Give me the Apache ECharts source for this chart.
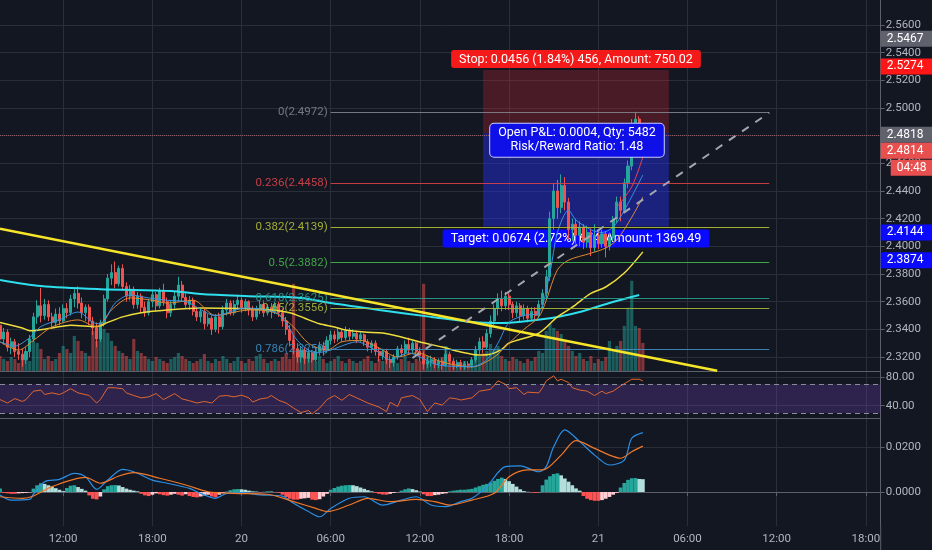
<!DOCTYPE html>
<html>
<head>
<meta charset="utf-8">
<script src="https://cdn.jsdelivr.net/npm/echarts@6/dist/echarts.min.js"></script>
<style>
html,body{margin:0;padding:0;background:#131722;}
#chart{width:932px;height:550px;}
</style>
</head>
<body>
<div id="chart"></div>
<script>
// ---------- time slots (15 min) ----------
const startDay = 19, startMinute = 7 * 60 + 45, slotCount = 238, slotMinutes = 15;
const times = [];
for (let k = 0; k < slotCount; k++) {
  const t = startMinute + k * slotMinutes;
  const d = startDay + Math.floor(t / 1440);
  const m = t % 1440;
  const hh = String(Math.floor(m / 60)).padStart(2, '0');
  const mm = String(m % 60).padStart(2, '0');
  times.push(d + ' ' + hh + ':' + mm);
}

// ---------- candles [open, close, low, high] ----------
const ohlc = [
[2.343,2.333,2.330,2.346],[2.333,2.338,2.329,2.341],[2.338,2.327,2.324,2.340],[2.327,2.331,2.322,2.334],
[2.331,2.324,2.320,2.333],[2.324,2.322,2.318,2.330],[2.322,2.318,2.313,2.326],[2.318,2.324,2.315,2.327],
[2.324,2.333,2.320,2.336],[2.333,2.349,2.331,2.352],[2.349,2.357,2.344,2.361],[2.357,2.350,2.345,2.370],
[2.350,2.358,2.347,2.362],[2.358,2.349,2.346,2.361],[2.349,2.345,2.341,2.352],[2.345,2.351,2.342,2.355],
[2.351,2.346,2.343,2.356],[2.346,2.355,2.345,2.358],[2.355,2.352,2.348,2.359],[2.352,2.362,2.350,2.365],
[2.362,2.366,2.356,2.369],[2.366,2.359,2.355,2.371],[2.359,2.352,2.348,2.363],[2.352,2.356,2.346,2.358],
[2.356,2.346,2.343,2.358],[2.346,2.341,2.336,2.349],[2.341,2.333,2.327,2.345],[2.333,2.345,2.331,2.347],
[2.345,2.362,2.342,2.365],[2.362,2.377,2.360,2.380],[2.377,2.381,2.372,2.387],[2.381,2.373,2.370,2.389],
[2.373,2.384,2.371,2.386],[2.384,2.371,2.368,2.387],[2.371,2.364,2.360,2.374],[2.364,2.369,2.361,2.372],
[2.369,2.358,2.355,2.371],[2.358,2.364,2.355,2.367],[2.364,2.356,2.352,2.366],[2.356,2.352,2.349,2.360],
[2.352,2.360,2.350,2.362],[2.360,2.365,2.356,2.368],[2.365,2.357,2.353,2.367],[2.357,2.368,2.355,2.370],
[2.368,2.360,2.357,2.373],[2.360,2.352,2.348,2.363],[2.352,2.358,2.349,2.361],[2.358,2.364,2.355,2.367],
[2.364,2.372,2.360,2.378],[2.372,2.363,2.360,2.375],[2.363,2.358,2.355,2.366],[2.358,2.361,2.354,2.364],
[2.361,2.353,2.350,2.363],[2.353,2.349,2.346,2.356],[2.349,2.353,2.345,2.355],[2.353,2.344,2.340,2.355],
[2.344,2.348,2.342,2.351],[2.348,2.340,2.336,2.350],[2.340,2.349,2.338,2.351],[2.349,2.342,2.337,2.352],
[2.342,2.354,2.340,2.357],[2.354,2.359,2.350,2.362],[2.359,2.352,2.350,2.361],[2.352,2.358,2.350,2.361],
[2.358,2.361,2.354,2.365],[2.361,2.356,2.352,2.363],[2.356,2.360,2.353,2.362],[2.360,2.354,2.350,2.361],
[2.354,2.349,2.346,2.357],[2.349,2.355,2.347,2.357],[2.355,2.358,2.351,2.361],[2.358,2.352,2.349,2.360],
[2.352,2.356,2.350,2.358],[2.356,2.353,2.348,2.359],[2.353,2.358,2.351,2.360],[2.358,2.352,2.349,2.360],
[2.352,2.346,2.342,2.355],[2.346,2.340,2.336,2.349],[2.340,2.332,2.328,2.343],[2.332,2.326,2.322,2.336],
[2.326,2.320,2.316,2.330],[2.320,2.325,2.316,2.328],[2.325,2.319,2.315,2.327],[2.319,2.323,2.316,2.326],
[2.323,2.318,2.316,2.325],[2.318,2.324,2.317,2.327],[2.324,2.328,2.321,2.331],[2.328,2.325,2.321,2.331],
[2.325,2.332,2.323,2.335],[2.332,2.336,2.329,2.339],[2.336,2.333,2.330,2.339],[2.333,2.338,2.331,2.341],
[2.338,2.334,2.331,2.340],[2.334,2.339,2.332,2.342],[2.339,2.335,2.332,2.341],[2.335,2.337,2.333,2.340],
[2.337,2.333,2.330,2.339],[2.333,2.336,2.331,2.338],[2.336,2.331,2.328,2.337],[2.331,2.327,2.324,2.333],
[2.327,2.330,2.323,2.332],[2.330,2.324,2.321,2.332],[2.324,2.321,2.317,2.327],[2.321,2.324,2.318,2.326],
[2.324,2.318,2.315,2.326],[2.318,2.316,2.312,2.321],[2.316,2.320,2.313,2.322],[2.320,2.326,2.318,2.328],
[2.326,2.323,2.320,2.329],[2.323,2.329,2.321,2.332],[2.329,2.325,2.322,2.334],[2.325,2.330,2.323,2.332],
[2.330,2.324,2.321,2.331],[2.324,2.321,2.317,2.327],[2.321,2.315,2.311,2.324],[2.315,2.317,2.312,2.320],
[2.317,2.318,2.313,2.321],[2.318,2.315,2.312,2.320],[2.315,2.317,2.312,2.319],[2.317,2.314,2.311,2.319],
[2.314,2.322,2.313,2.327],[2.322,2.317,2.314,2.324],[2.317,2.314,2.311,2.319],[2.314,2.316,2.312,2.318],
[2.316,2.313,2.311,2.318],[2.313,2.315,2.311,2.317],[2.315,2.314,2.312,2.317],[2.314,2.318,2.312,2.320],
[2.318,2.325,2.316,2.328],[2.325,2.331,2.322,2.334],[2.331,2.327,2.323,2.335],[2.327,2.337,2.325,2.340],
[2.337,2.346,2.334,2.350],[2.346,2.355,2.343,2.358],[2.355,2.362,2.350,2.366],[2.362,2.357,2.353,2.368],
[2.357,2.364,2.354,2.367],[2.364,2.358,2.354,2.366],[2.358,2.352,2.348,2.360],[2.352,2.357,2.349,2.360],
[2.357,2.350,2.346,2.359],[2.350,2.355,2.347,2.358],[2.355,2.348,2.345,2.357],[2.348,2.353,2.346,2.356],
[2.353,2.350,2.347,2.356],[2.350,2.358,2.348,2.361],[2.358,2.366,2.355,2.369],[2.366,2.378,2.362,2.383],
[2.378,2.420,2.375,2.425],[2.420,2.440,2.412,2.445],[2.440,2.428,2.420,2.448],[2.428,2.444,2.424,2.452],
[2.444,2.432,2.426,2.450],[2.432,2.412,2.405,2.435],[2.412,2.416,2.404,2.420],[2.416,2.408,2.402,2.420],
[2.408,2.414,2.400,2.418],[2.414,2.403,2.398,2.416],[2.403,2.410,2.399,2.415],[2.410,2.399,2.393,2.413],
[2.399,2.408,2.396,2.416],[2.408,2.402,2.398,2.412],[2.402,2.409,2.399,2.412],[2.409,2.400,2.392,2.411],
[2.400,2.406,2.397,2.410],[2.406,2.420,2.404,2.422],[2.420,2.432,2.417,2.436],[2.432,2.426,2.418,2.436],
[2.426,2.446,2.424,2.449],[2.446,2.458,2.442,2.462],[2.458,2.489,2.455,2.492],[2.489,2.492,2.482,2.4972],
[2.492,2.486,2.480,2.494],[2.486,2.4814,2.479,2.489]
];

const volume = [
15,12,10,14,12, 8,12,18,10, 30,28,22, 12,15,10,12,18, 25,22,18,35,30, 20,18,15,40,30,
45,42,38,30,25,20,18, 15,12,32,20,18,15,12, 10,14,12,10,8,12,14, 18,15,12,10,8,10,
12,17,10,8,12,10,15, 12,8,10,14,10,8,12, 10,15,17,12,8,10,12,10, 14,18,12, 87,
22,18,15,20,12,10,15, 12,8,10,12,15,10,8,12,10, 8,10,12,15,10,8,12,10,14,12,
10,8,12,15,10,8,12, 10,87,15, 12,10,8,14, 25, 10,8,6,8,10,6,8, 12,15,18,20,27,22,25,
15,12,10,14,12,10,8,12,10,14,20,18, 40,47,43, 40,37,30,25,20,15,18,
12,10,15,8,12,10,14,30, 20,25, 30,45,63,90,45,43,28
];

// ---------- moving averages, read at sample points [slot, price] ----------
const maSlow = [[0,2.3757],[11,2.3713],[27,2.369],[46,2.3677],[54,2.3655],[67,2.364],[81,2.3627],
  [89,2.359],[102,2.354],[116,2.349],[127,2.3453],[135,2.3446],[148,2.348],[156,2.3525],[164,2.359],[172,2.3648]];
const maMid = [[0,2.345],[6,2.341],[8,2.339],[14,2.341],[19,2.343],[26,2.342],[29,2.345],[33,2.349],[38,2.352],
  [45,2.354],[54,2.3554],[65,2.355],[73,2.354],[78,2.352],[82,2.348],[86,2.344],[90,2.3417],[93,2.3395],
  [98,2.338],[103,2.3374],[108,2.3345],[113,2.3308],[119,2.3272],[124,2.3236],[129,2.3214],[132,2.322],
  [135,2.3255],[137,2.3301],[145,2.3373],[150,2.349],[154,2.356],[159,2.366],[163,2.3706],[168,2.3807],[173,2.396]];
const maOrange = [[0,2.331],[5,2.325],[9,2.332],[14,2.3417],[21,2.3468],[26,2.3417],[30,2.354],[35,2.3627],
  [41,2.361],[45,2.359],[52,2.361],[58,2.350],[67,2.354],[74,2.352],[79,2.3417],[83,2.330],[88,2.325],[92,2.331],
  [97,2.332],[102,2.3265],[107,2.320],[112,2.323],[119,2.3164],[127,2.3128],[133,2.320],[137,2.330],[141,2.340],
  [145,2.349],[147,2.361],[150,2.383],[153,2.390],[159,2.395],[163,2.3988],[166,2.4046],[170,2.421],[173,2.4357]];
const maBlue = [[0,2.331],[4,2.328],[8,2.334],[11,2.342],[16,2.347],[21,2.3525],[25,2.345],[27,2.344],[31,2.359],
  [35,2.3648],[40,2.3627],[45,2.361],[50,2.360],[58,2.350],[66,2.3554],[74,2.3525],[77,2.3446],[80,2.332],
  [85,2.323],[89,2.325],[91,2.327],[96,2.331],[101,2.325],[105,2.318],[110,2.323],[113,2.320],[118,2.3142],
  [127,2.313],[131,2.318],[134,2.330],[137,2.345],[141,2.350],[145,2.352],[148,2.381],[150,2.410],[153,2.426],
  [155,2.419],[159,2.412],[162,2.410],[165,2.414],[168,2.426],[173,2.4516]];
const maRed = [[166,2.4285],[170,2.443],[173,2.4646]];

// ---------- drawings ----------
const trendYellow = [[0,2.4128],[193,2.3100]];
const trendDashed = [[111,2.3193],[207,2.4966]];
const fibRatios = ['0','0.236','0.382','0.5','0.618','0.65','0.786'];
const fibPrices = [2.4972,2.4458,2.4139,2.3882,2.3625,2.3556,2.3259];
const fibSpan = [89,207];
const stopPrice = 2.5274, entryPrice = 2.4818, targetPrice = 2.4144;
const positionSpan = [130,180];
const stopText = 'Stop: 0.0456 (1.84%) 456, Amount: 750.02';
const targetText = 'Target: 0.0674 (2.72%) 674, Amount: 1369.49';
const pnlText = 'Open P&L: 0.0004, Qty: 5482\nRisk/Reward Ratio: 1.48';
const pnlSlot = 155;
const tagValues = [2.5467, 2.5274, 2.4818, 2.4814, 2.4144, 2.3874];
const countdownText = '04:48';
const lastPrice = 2.4814;

// ---------- RSI [slot, value] ----------
const rsi = [[0,48.6],[2,43.8],[4,50],[6,46],[7,48.6],[9,60.4],[11,61.9],[12,55.7],[14,58],[16,55.7],[17,58],
 [19,63.8],[21,58],[24,54.3],[26,43.8],[27,48.6],[29,65.2],[31,65],[33,63.8],[34,58],[36,54.3],[38,51],[40,52.4],
 [42,57],[44,48.6],[47,57],[49,49.5],[51,47],[53,43.8],[55,46],[57,43.8],[59,53.3],[61,54.3],[63,52.4],[65,54.8],
 [67,51],[68,45.2],[70,49.5],[72,51],[73,54.3],[75,47.6],[77,43.8],[79,36.7],[81,30.5],[83,33.3],[84,28.6],
 [86,36.7],[88,48.6],[90,54.3],[92,47.6],[94,55.7],[96,51],[99,43.8],[102,38.1],[104,31.9],[105,44.8],[107,39],
 [108,51],[111,54.3],[113,48.6],[115,31.9],[117,43.8],[119,41],[121,51],[123,49.5],[124,48],[127,51],[129,60.4],
 [132,62.9],[134,74.8],[136,70],[137,63.8],[139,65.2],[141,55.7],[142,59],[145,58],[146,65.2],[147,74.8],
 [149,81.9],[150,74.8],[151,77],[153,72.4],[154,65.2],[156,61.9],[158,60.4],[160,54.3],[162,60.4],[163,57],
 [165,60.4],[167,67.6],[170,77],[172,77],[173,74.8]];

// ---------- MACD ----------
const macdLine = [[0,-0.0013],[3,-0.0036],[8,-0.0033],[9,-0.001],[12,0.0046],[16,0.0056],[20,0.0083],[23,0.0068],
 [26,0.0012],[29,0.0053],[33,0.0101],[36,0.009],[41,0.0053],[45,0.0039],[51,0.0016],[54,-0.0006],[58,-0.0028],
 [61,-0.0006],[65,-0.0003],[70,-0.0013],[76,-0.0018],[79,-0.005],[83,-0.0087],[86,-0.011],[89,-0.0073],[94,-0.0028],
 [98,-0.0021],[103,-0.0058],[108,-0.0036],[112,-0.0021],[116,-0.0058],[120,-0.0065],[124,-0.0043],[127,-0.0028],
 [131,0.0024],[136,0.0113],[140,0.0116],[145,0.009],[147,0.0113],[149,0.0201],[152,0.0276],[156,0.0224],
 [160,0.0164],[164,0.012],[168,0.0142],[170,0.0239],[173,0.0264]];
const signalLine = [[0,-0.0021],[6,-0.0028],[9,-0.0018],[14,0.0024],[23,0.0065],[27,0.0039],[32,0.0071],[36,0.0086],
 [43,0.0061],[50,0.0031],[56,0.0001],[63,-0.0006],[72,-0.001],[79,-0.0043],[85,-0.0073],[88,-0.0087],[94,-0.0058],
 [99,-0.0028],[105,-0.0043],[112,-0.0033],[117,-0.0043],[121,-0.0058],[127,-0.0036],[133,-0.0006],[137,0.0068],
 [142,0.0098],[146,0.0098],[151,0.0164],[155,0.0228],[160,0.0194],[164,0.0164],[167,0.015],[170,0.0179],[173,0.0204]];
const macdHist = [
0.0016,
-0.0004,-0.0006,-0.0008,-0.0008,-0.0006,-0.0005,-0.0004,-0.0002,
0.0015,0.0030,0.0039,
0.0036,0.0030,0.0024,0.0017,0.0010,0.0004,
0.0018,0.0028,0.0030,
0.0022,0.0014,0.0006,
-0.0015,-0.0030,-0.0033,-0.0020,
0.0012,0.0026,0.0030,0.0031,0.0029,
0.0022,0.0015,0.0010,0.0006,0.0003,
-0.0008,-0.0015,-0.0018,-0.0012,-0.0006,
-0.0010,-0.0014,-0.0016,-0.0012,-0.0008,-0.0012,-0.0016,-0.0010,
-0.0018,-0.0022,-0.0024,-0.0020,-0.0016,-0.0012,-0.0020,-0.0024,-0.0012,
-0.0005,0.0002,
0.0008,0.0012,0.0013,0.0012,0.0010,0.0006,0.0003,
0.0002,-0.0002,0.0001,0.0003,0.0002,-0.0001,-0.0003,
-0.0012,-0.0022,-0.0030,-0.0034,-0.0034,
-0.0030,-0.0028,-0.0026,-0.0034,-0.0036,
-0.0032,-0.0020,-0.0008,
0.0010,0.0018,0.0024,0.0028,0.0030,0.0031,0.0030,0.0026,0.0020,0.0014,0.0008,0.0003,
-0.0004,-0.0008,-0.0011,-0.0012,-0.0008,-0.0004,-0.0001,
0.0006,0.0012,0.0016,0.0013,0.0008,0.0002,
-0.0010,-0.0018,-0.0018,-0.0014,-0.0012,-0.0008,-0.0006,
0.0003,0.0006,0.0008,0.0010,0.0010,0.0012,0.0014,
0.0020,0.0026,0.0032,0.0036,0.0042,0.0050,0.0058,0.0064,
0.0058,0.0048,0.0036,0.0024,0.0012,0.0004,
0.0001,-0.0002,-0.0004,-0.0001,
0.0030,0.0055,0.0070,0.0080,0.0083,
0.0074,0.0060,0.0046,0.0030,0.0016,0.0006,
-0.0018,-0.0030,-0.0036,-0.0039,-0.0039,-0.0036,-0.0030,-0.0022,-0.0012,-0.0004,
0.0020,0.0040,0.0054,0.0061,0.0062,0.0058,0.0057
];

// ---------- axis tick values ----------
const priceTicks = [2.32,2.34,2.36,2.38,2.40,2.42,2.44,2.46,2.48,2.50,2.52,2.54,2.56];
const rsiTicks = [40,80];
const macdTicks = [0,0.02];
const rsiBand = [30,70];

// ================= option =================
const gridColor = '#2a2e39';
const sepColor = '#5d606b';
const labelColor = '#b2b5be';
const FONT = 'Roboto, "Noto Sans", sans-serif';
const isMajor = (idx, val) => {
  const hm = String(val).slice(3);
  return hm === '00:00' || hm === '06:00' || hm === '12:00' || hm === '18:00';
};
const fmtTime = (val) => {
  const parts = String(val).split(' ');
  return parts[1] === '00:00' ? parts[0] : parts[1];
};

const gridsDef = [
  {left: -1.3, right: 51.3, top: 0, height: 371},
  {left: -1.3, right: 51.3, top: 371, height: 47},
  {left: -1.3, right: 51.3, top: 418, height: 108}
];

const xAxes = [0,1,2].map(g => ({
  type: 'category', gridIndex: g, data: times, boundaryGap: false,
  axisLine: {show: true, lineStyle: {color: sepColor, width: 1}},
  axisTick: {show: g === 2, interval: isMajor, length: 4, lineStyle: {color: sepColor}},
  axisLabel: {show: g === 2, interval: isMajor, formatter: fmtTime, color: labelColor, fontSize: 11.5, fontFamily: FONT, margin: 7},
  splitLine: {show: true, interval: isMajor, lineStyle: {color: gridColor, width: 1}}
}));

function valueAxis(grid, min, max, ticks, digits) {
  return {
    type: 'value', gridIndex: grid, position: 'right', min: min, max: max, scale: true,
    axisLine: {show: true, lineStyle: {color: sepColor}},
    axisTick: {show: true, customValues: ticks, length: 4, lineStyle: {color: sepColor}},
    axisLabel: {show: true, customValues: ticks, formatter: v => Number(v).toFixed(digits),
      color: labelColor, fontSize: 11.5, fontFamily: FONT, margin: 5},
    splitLine: {show: true, lineStyle: {color: gridColor, width: 1}}
  };
}

const yAxes = [
  valueAxis(0, 2.30988, 2.57807, priceTicks, 4),
  {type: 'value', gridIndex: 0, min: 0, max: 370, show: false},
  valueAxis(1, 22.86, 88.57, rsiTicks, 2),
  valueAxis(2, -0.01511, 0.03289, macdTicks, 4)
];

// fib markLines
const fibColors = ['#80838c','#d8434a','#b3be37','#45b54a','#2a9d8f','#a9b83a','#3d8fc2'];
const fibLines = fibPrices.map((p, k) => [
  {coord: [fibSpan[0], p],
   lineStyle: {color: fibColors[k], width: 1, type: 'solid', opacity: 0.9},
   label: {show: true, position: 'start', distance: 3, formatter: fibRatios[k] + '(' + p.toFixed(4) + ')',
     color: fibColors[k], fontSize: 11.5, fontFamily: FONT}},
  {coord: [fibSpan[1], p]}
]);

// price tags on the right scale
const tagStyles = [
  {bg: '#5f626d', dy: 0},
  {bg: '#ff1616', dy: 0},
  {bg: '#5f626d', dy: -1},
  {bg: '#e85050', dy: 15},
  {bg: '#0a0aff', dy: 0},
  {bg: '#0a0aff', dy: 0}
];
const tagItems = tagValues.map((v, k) => ({
  yAxis: v,
  lineStyle: {color: 'rgba(0,0,0,0)', width: 1},
  label: {show: true, position: 'end', distance: 0, formatter: v.toFixed(4), offset: [0, tagStyles[k].dy],
    color: '#ffffff', backgroundColor: tagStyles[k].bg, padding: [2, 9, 2, 6], fontSize: 12, fontFamily: FONT}
}));
tagItems.push({
  yAxis: lastPrice,
  lineStyle: {color: 'rgba(0,0,0,0)', width: 1},
  label: {show: true, position: 'end', distance: 0, formatter: countdownText, offset: [10, 32],
    color: '#ffffff', backgroundColor: '#e85050', padding: [2, 6, 2, 6], fontSize: 12, fontFamily: FONT}
});
const lastPriceLine = {
  yAxis: lastPrice,
  lineStyle: {color: '#8c5a66', type: 'dotted', width: 1},
  label: {show: false}
};

const upColor = '#26a69a', downColor = '#ef5350';

const series = [
  {
    name: 'price', type: 'candlestick', xAxisIndex: 0, yAxisIndex: 0, data: ohlc, barWidth: '68%', z: 3,
    itemStyle: {color: upColor, color0: downColor, borderColor: upColor, borderColor0: downColor, borderWidth: 1},
    markArea: {
      silent: true,
      data: [
        [{coord: [positionSpan[0], stopPrice],
          itemStyle: {color: 'rgba(242,40,55,0.24)'},
          label: {show: true, position: 'top', distance: 2, formatter: stopText, color: '#ffffff',
            backgroundColor: '#f41a1a', padding: [3, 8, 2, 8], borderRadius: 3, fontSize: 12.5, fontFamily: FONT}},
         {coord: [positionSpan[1], entryPrice]}],
        [{coord: [positionSpan[0], entryPrice],
          itemStyle: {color: 'rgba(35,50,255,0.42)'},
          label: {show: true, position: 'bottom', distance: 3, formatter: targetText, color: '#ffffff',
            backgroundColor: '#0a0aff', padding: [3, 8, 2, 8], borderRadius: 2, fontSize: 12.5, fontFamily: FONT}},
         {coord: [positionSpan[1], targetPrice]}]
      ]
    },
    markLine: {
      silent: true, symbol: ['none', 'none'], animation: false,
      data: fibLines.concat([lastPriceLine])
    },
    markPoint: {
      silent: true, animation: false,
      data: [{
        coord: [pnlSlot, entryPrice], symbol: 'rect', symbolSize: 1, itemStyle: {color: 'rgba(0,0,0,0)'},
        label: {show: true, position: 'inside', offset: [1, 7], formatter: pnlText, color: '#ffffff',
          backgroundColor: '#0f0fe8', borderColor: '#c9ccff', borderWidth: 1, borderRadius: 4,
          padding: [3, 8, 2, 8], lineHeight: 14, fontSize: 12.5, fontFamily: FONT, align: 'center'}
      }]
    }
  },
  {
    name: 'tags', type: 'line', xAxisIndex: 0, yAxisIndex: 0, data: [], clip: false, z: 10,
    markLine: {silent: true, symbol: ['none', 'none'], animation: false, data: tagItems}
  },
  {
    name: 'volume', type: 'bar', xAxisIndex: 0, yAxisIndex: 1, data: volume, barWidth: '85%', z: 1,
    itemStyle: {color: p => ohlc[p.dataIndex][1] >= ohlc[p.dataIndex][0] ? 'rgba(38,166,154,0.5)' : 'rgba(239,83,80,0.5)'}
  },
  {type: 'line', xAxisIndex: 0, yAxisIndex: 0, data: maSlow, showSymbol: false, smooth: 0.3, z: 4,
    lineStyle: {color: '#2ee0ee', width: 2}},
  {type: 'line', xAxisIndex: 0, yAxisIndex: 0, data: maMid, showSymbol: false, smooth: 0.3, z: 4,
    lineStyle: {color: '#eedd3c', width: 1.5}},
  {type: 'line', xAxisIndex: 0, yAxisIndex: 0, data: maOrange, showSymbol: false, smooth: 0.3, z: 4,
    lineStyle: {color: '#e08a32', width: 1}},
  {type: 'line', xAxisIndex: 0, yAxisIndex: 0, data: maBlue, showSymbol: false, smooth: 0.3, z: 4,
    lineStyle: {color: '#3a93e0', width: 1}},
  {type: 'line', xAxisIndex: 0, yAxisIndex: 0, data: maRed, showSymbol: false, smooth: 0.3, z: 4,
    lineStyle: {color: '#e8474f', width: 1}},
  {type: 'line', xAxisIndex: 0, yAxisIndex: 0, data: trendYellow, showSymbol: false, z: 6,
    lineStyle: {color: '#f7e52a', width: 2.5}},
  {type: 'line', xAxisIndex: 0, yAxisIndex: 0, data: trendDashed, showSymbol: false, z: 6,
    lineStyle: {color: '#a3a6af', width: 2, type: [8, 8]}},
  {
    name: 'RSI', type: 'line', xAxisIndex: 1, yAxisIndex: 2, data: rsi, showSymbol: false, z: 4,
    lineStyle: {color: '#e2672e', width: 1},
    markArea: {silent: true, data: [[{yAxis: rsiBand[0], itemStyle: {color: 'rgba(120,70,200,0.26)'}}, {yAxis: rsiBand[1]}]]},
    markLine: {silent: true, symbol: ['none', 'none'], label: {show: false}, animation: false,
      lineStyle: {color: '#8a8d96', type: [5, 4], width: 1},
      data: [{yAxis: rsiBand[1]}, {yAxis: rsiBand[0]}]}
  },
  {
    name: 'hist', type: 'bar', xAxisIndex: 2, yAxisIndex: 3, data: macdHist, barWidth: '100%', z: 2,
    itemStyle: {color: p => {
      const v = macdHist[p.dataIndex];
      const prev = p.dataIndex > 0 ? macdHist[p.dataIndex - 1] : v;
      if (v >= 0) return v >= prev ? '#26a69a' : '#b2dfdb';
      return v <= prev ? '#ff5252' : '#ffcdd2';
    }}
  },
  {type: 'line', xAxisIndex: 2, yAxisIndex: 3, data: macdLine, showSymbol: false, smooth: 0.3, z: 4,
    lineStyle: {color: '#2a8fe6', width: 1.2}},
  {type: 'line', xAxisIndex: 2, yAxisIndex: 3, data: signalLine, showSymbol: false, smooth: 0.3, z: 4,
    lineStyle: {color: '#f0782a', width: 1.2}}
];

const chart = echarts.init(document.getElementById('chart'), null, {renderer: 'canvas'});
chart.setOption({
  backgroundColor: '#131722',
  animation: false,
  textStyle: {fontFamily: FONT},
  grid: gridsDef,
  xAxis: xAxes,
  yAxis: yAxes,
  series: series,
  graphic: [{type: 'line', shape: {x1: 880.7, y1: 526, x2: 880.7, y2: 550}, style: {stroke: sepColor, lineWidth: 1}, silent: true}]
});
</script>
</body>
</html>
